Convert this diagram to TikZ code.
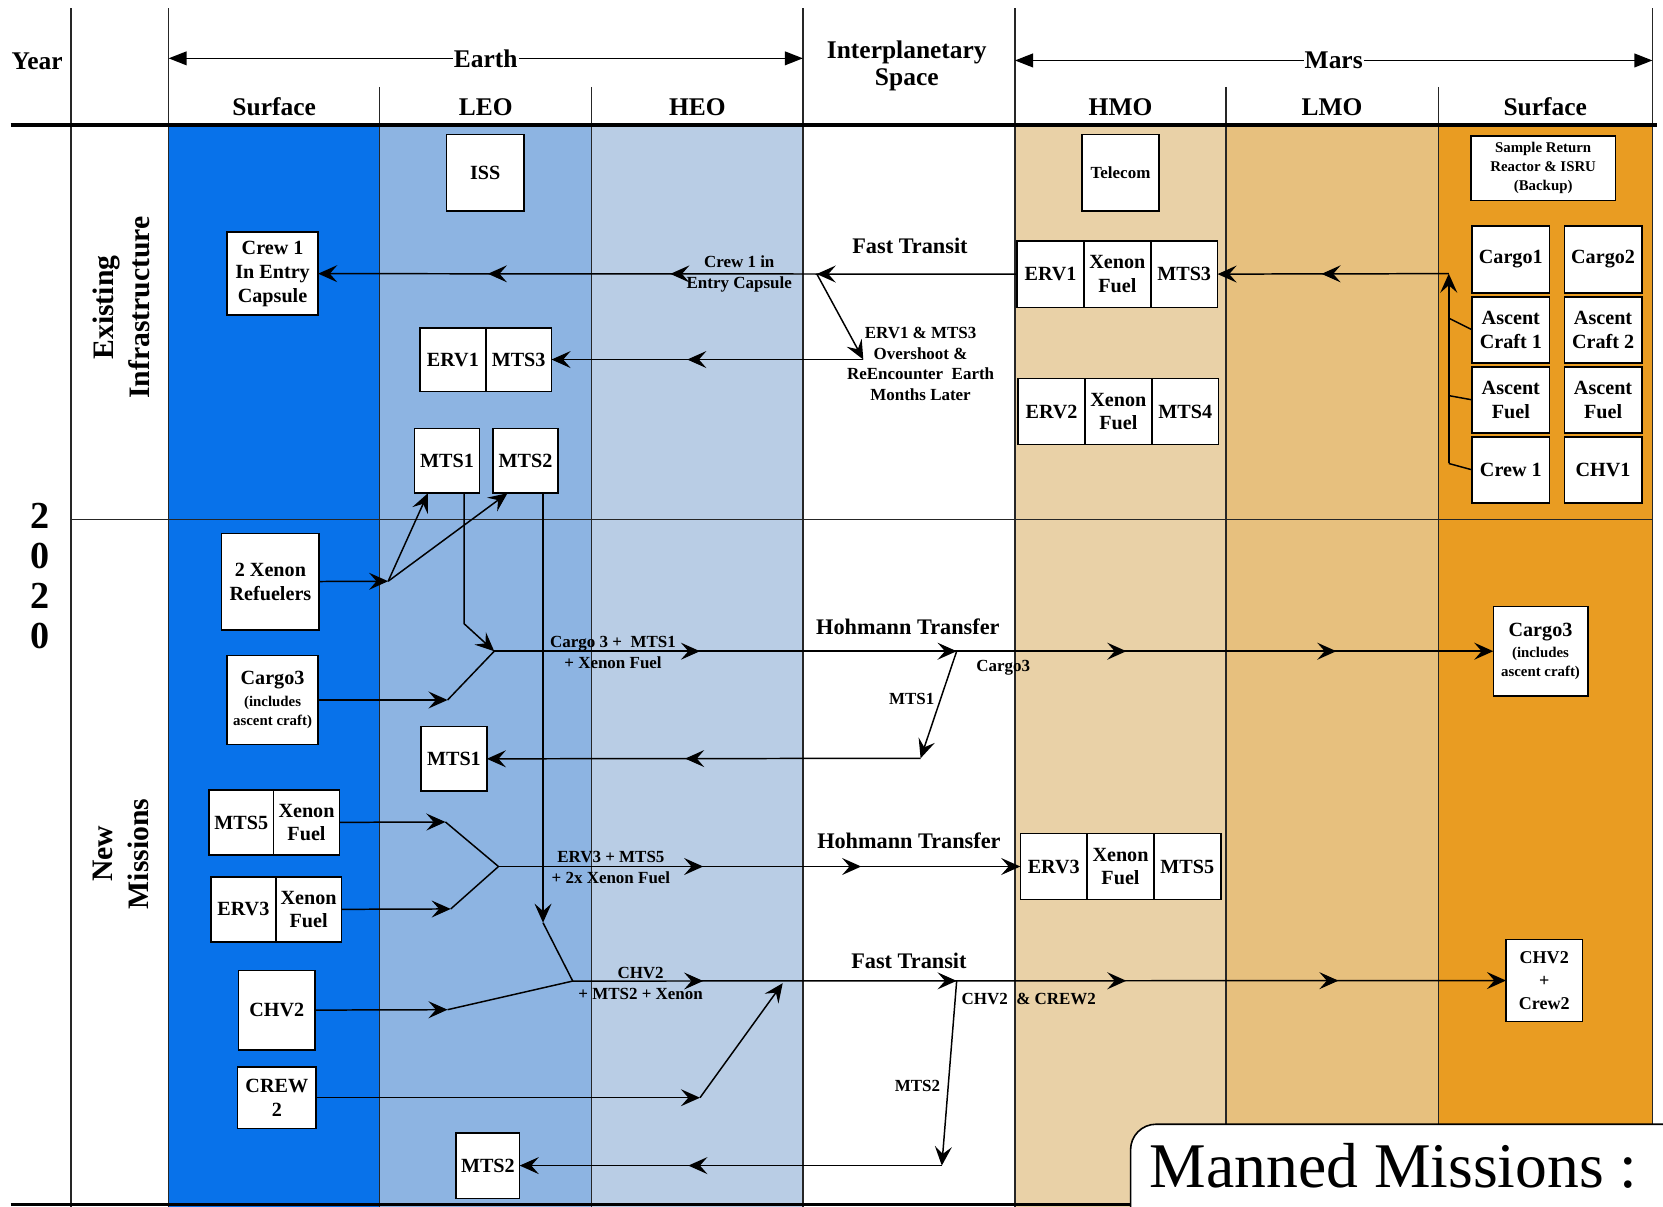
\documentclass[tikz,border=0pt]{standalone}
\usepackage{fontspec}
\setmainfont{Liberation Serif}
\usetikzlibrary{arrows.meta, positioning, decorations.markings}

\definecolor{earthsurf}{RGB}{8,114,234}
\definecolor{leo}{RGB}{141,180,226}
\definecolor{heo}{RGB}{185,205,229}
\definecolor{hmo}{RGB}{233,209,167}
\definecolor{lmo}{RGB}{231,192,126}
\definecolor{marssurf}{RGB}{233,156,34}

\newcommand\boxfont{\fontsize{19}{22.5}\selectfont\bfseries}
\newcommand\lblfont{\fontsize{16}{19.5}\selectfont\bfseries}
\newcommand\midfont{\fontsize{17}{22}\selectfont\bfseries}
\newcommand\notefont{\fontsize{14}{18}\selectfont\bfseries}
\newcommand\headfont{\fontsize{24}{25}\selectfont\bfseries}
\newcommand\transfont{\fontsize{21}{24}\selectfont\bfseries}
\newcommand\rowfont{\fontsize{28}{34}\selectfont\bfseries}
\newcommand\yearfont{\fontsize{36}{37.5}\selectfont\bfseries}

\tikzset{
  box/.style={draw, fill=white, line width=1.5pt, align=center, font=\boxfont, inner sep=0pt, outer sep=0pt},
  wh/.style 2 args={minimum width=#1, minimum height=#2},
  lbl/.style={align=center, font=\lblfont, inner sep=0pt},
  colline/.style={line width=1.2pt, black!85},
  wire/.style={line width=1.4pt},
  flow/.style={wire, ->},
  midtip/.style={postaction={decorate, decoration={markings, mark=at position #1 with {\arrow{>}}}}},
  headtip/.style={{Triangle[length=17pt, width=13pt]}-{Triangle[length=17pt, width=13pt]}, line width=1.3pt},
}

\begin{document}
\begin{tikzpicture}[x=1pt, y=-1pt, >={Stealth[length=18pt, width=16pt, inset=7pt]}]
\useasboundingbox (0,0) rectangle (1568,1138);

\fill[earthsurf] (159,118) rectangle (358,1138);
\fill[leo] (358,118) rectangle (558,1138);
\fill[heo] (558,118) rectangle (757,1138);
\fill[hmo] (957,118) rectangle (1156,1138);
\fill[lmo] (1156,118) rectangle (1356,1138);
\fill[marssurf] (1356,118) rectangle (1558,1138);

\draw[colline] (67,8) -- (67,1138);
\draw[colline] (159,8) -- (159,1138);
\draw[colline] (358,82) -- (358,1138);
\draw[colline] (558,82) -- (558,1138);
\draw[colline] (757,8) -- (757,1138);
\draw[colline] (957,8) -- (957,1138);
\draw[colline] (1156,82) -- (1156,1138);
\draw[colline] (1356,82) -- (1356,1138);
\draw[colline] (1558,8) -- (1558,1138);
\draw[colline] (67,490) -- (1558,490);
\draw[line width=3.5pt] (10,118) -- (1562,118);
\draw[line width=3pt] (10,1136) -- (1066,1136);

\node[font=\headfont] at (35,58) (year) {Year};
\draw[headtip] (159,55) -- node[fill=white, font=\headfont, inner sep=1pt] (earth) {Earth} (757,55);
\node[font=\headfont, align=center] at (855,62) (space) {Interplanetary\\Space};
\draw[headtip] (957,57) -- node[fill=white, font=\headfont, inner sep=1pt] (mars) {Mars} (1558,57);
\node[font=\headfont] at (258.5,101) (esurf) {Surface};
\node[font=\headfont] at (458,101) (leoh) {LEO};
\node[font=\headfont] at (657.5,101) (heoh) {HEO};
\node[font=\headfont] at (1056.5,101) (hmoh) {HMO};
\node[font=\headfont] at (1256,101) (lmoh) {LMO};
\node[font=\headfont] at (1457,101) (msurf) {Surface};

\node[font=\yearfont, align=center] at (38,543) (yr) {2\\0\\2\\0};
\node[font=\rowfont, align=center, rotate=90] at (114,290) (exist) {Existing\\Infrastructure};
\node[font=\rowfont, align=center, rotate=90] at (114,805) (newm) {New\\Missions};

\node[box, wh={73}{72}] at (457.5,163) (iss) {ISS};
\node[box, wh={86}{78}] at (257,258) (crewcap) {Crew 1\\In Entry\\Capsule};
\node[box, wh={62}{60}] at (427,339) (erv1l) {ERV1};
\node[box, wh={62}{60}, right=0pt of erv1l] (mts3l) {MTS3};
\node[box, wh={61}{61}] at (421.5,434.5) (mts1e) {MTS1};
\node[box, wh={61}{61}] at (495.5,434.5) (mts2e) {MTS2};

\node[box, wh={73}{72}, font=\lblfont] at (1056.5,163) (telecom) {Telecom};
\node[box, wh={63}{63}] at (990.5,258.5) (erv1m) {ERV1};
\node[box, wh={63}{63}, right=0pt of erv1m] (xen1m) {Xenon\\Fuel};
\node[box, wh={63}{63}, right=0pt of xen1m] (mts3m) {MTS3};
\node[box, wh={63}{62}] at (991.5,388) (erv2m) {ERV2};
\node[box, wh={63}{62}, right=0pt of erv2m] (xen2m) {Xenon\\Fuel};
\node[box, wh={63}{62}, right=0pt of xen2m] (mts4m) {MTS4};

\node[box, wh={136}{61}, font=\notefont] at (1455,158.5) (sample) {Sample Return\\Reactor \& ISRU\\(Backup)};
\node[box, wh={73}{63}] at (1424.5,244.5) (cargo1) {Cargo1};
\node[box, wh={73}{63}] at (1511.5,244.5) (cargo2) {Cargo2};
\node[box, wh={73}{62}] at (1424.5,311) (asc1) {Ascent\\Craft 1};
\node[box, wh={73}{62}] at (1511.5,311) (asc2) {Ascent\\Craft 2};
\node[box, wh={73}{62}] at (1424.5,377) (afuel1) {Ascent\\Fuel};
\node[box, wh={73}{62}] at (1511.5,377) (afuel2) {Ascent\\Fuel};
\node[box, wh={73}{62}] at (1424.5,443) (crewm) {Crew 1};
\node[box, wh={73}{62}] at (1511.5,443) (chv1) {CHV1};

\node[box, wh={92}{91}] at (255,548.5) (refuel) {2 Xenon\\Refuelers};
\node[box, wh={86}{84}, font=\notefont] at (257,660) (cargo3e) {{\boxfont Cargo3}\\[2pt](includes\\ascent craft)};
\node[box, wh={62}{61}] at (428,715.5) (mts1n) {MTS1};
\node[box, wh={61}{61}] at (227.5,775.5) (mts5e) {MTS5};
\node[box, wh={62}{61}, right=0pt of mts5e] (xen5e) {Xenon\\Fuel};
\node[box, wh={61}{61}] at (229.5,857.5) (erv3e) {ERV3};
\node[box, wh={62}{61}, right=0pt of erv3e] (xen3e) {Xenon\\Fuel};
\node[box, wh={72}{75}] at (261,952.5) (chv2e) {CHV2};
\node[box, wh={74}{58}] at (261,1035) (crew2e) {CREW\\2};
\node[box, wh={60}{62}] at (460,1099) (mts2n) {MTS2};

\node[box, wh={89}{84}, font=\notefont] at (1452.5,614) (cargo3m) {{\boxfont Cargo3}\\[2pt](includes\\ascent craft)};
\node[box, wh={63}{62}] at (993.5,817) (erv3m) {ERV3};
\node[box, wh={63}{62}, right=0pt of erv3m] (xen3m) {Xenon\\Fuel};
\node[box, wh={63}{62}, right=0pt of xen3m] (mts5m) {MTS5};
\node[box, wh={72}{77}, font=\midfont] at (1456,924.5) (chv2m) {CHV2\\+\\Crew2};

\node[font=\transfont] at (858,232) (fast1) {Fast Transit};
\node[font=\transfont] at (856,591) (hoh1) {Hohmann Transfer};
\node[font=\transfont] at (857,793) (hoh2) {Hohmann Transfer};
\node[font=\transfont] at (857,906) (fast2) {Fast Transit};
\node[lbl] at (697,258) (crewlbl) {Crew 1 in\\Entry Capsule};
\node[lbl] at (868,343) (overlbl) {ERV1 \& MTS3\\Overshoot \&\\ReEncounter\ \ Earth\\Months Later};
\node[lbl] at (578,615) (c3lbl) {Cargo 3 +\ \ MTS1\\+ Xenon Fuel};
\node[lbl] at (576,818) (e3lbl) {ERV3 + MTS5\\+ 2x Xenon Fuel};
\node[lbl] at (604,927) (ch2lbl) {CHV2\\+ MTS2 + Xenon};
\node[lbl] at (946,630) (c3mlbl) {Cargo3};
\node[lbl] at (970,942) (chcrew) {CHV2\ \ \& CREW2};

\coordinate (e1) at (770,258);
\coordinate (e2) at (814,339);
\draw[flow, midtip=189pt, midtip=327pt, midtip=499pt] (erv1m) -- (crewcap);
\draw[flow] (e1) -- (e2);
\draw[flow, midtip=166pt] (e2) -- (mts3l);

\coordinate (mj) at (1366,258);
\coordinate (ma) at (1366,300);
\coordinate (mf) at (1366,373);
\coordinate (mb) at (1366,437);
\draw[wire] (asc1.west) -- (ma);
\draw[wire] (afuel1.west) -- (mf);
\draw[wire] (crewm.west) -- (mb);
\draw[flow] (mb) -- (mj);
\draw[flow, midtip=120pt] (mj) -- (mts3m);

\coordinate (fork) at (366,548);
\coordinate (j1) at (466,614);
\coordinate (k1) at (437.5,588);
\coordinate (c3) at (422,660);
\draw[flow] (refuel) -- (fork);
\draw[flow] (fork) -- ([xshift=-18pt]mts1e.south);
\draw[flow] (fork) -- ([xshift=-17pt]mts2e.south);
\draw[flow] ([xshift=16pt]mts1e.south) -- (k1) -- (j1);
\draw[flow] (cargo3e) -- (c3);
\draw[wire] (c3) -- (j1);
\draw[flow, midtip=194pt, midtip=436pt, midtip=596pt, midtip=794pt] (j1) -- (cargo3m);
\coordinate (b1) at (902,614);
\coordinate (d1) at (868,715);
\draw[flow] (b1) -- node[lbl, left=5pt, pos=0.45] (mts1lbl) {MTS1} (d1);
\draw[flow, midtip=222pt] (d1) -- (mts1n);

\coordinate (m5) at (420,775);
\coordinate (e3) at (425,857);
\coordinate (j2) at (470,817);
\draw[flow] (xen5e) -- (m5);
\draw[wire] (m5) -- (j2);
\draw[flow] (xen3e) -- (e3);
\draw[wire] (e3) -- (j2);
\draw[flow, midtip=193pt, midtip=342pt] (j2) -- (erv3m);

\coordinate (k2) at (512,870);
\coordinate (j3) at (540,925);
\coordinate (ch) at (422,952);
\coordinate (cr) at (660,1035);
\coordinate (cu) at (738,927);
\draw[flow] ([xshift=16.5pt]mts2e.south) -- (k2);
\draw[wire] (k2) -- (j3);
\draw[flow] (chv2e) -- (ch);
\draw[wire] (ch) -- (j3);
\draw[flow, midtip=123pt, midtip=362pt, midtip=522pt, midtip=722pt] (j3) -- (chv2m);
\draw[flow] (crew2e) -- (cr);
\draw[flow] (cr) -- (cu);
\coordinate (b2) at (902,925);
\coordinate (d2) at (888,1099);
\draw[flow] (b2) -- node[lbl, left=7pt, pos=0.57] (mts2lbl) {MTS2} (d2);
\draw[flow, midtip=239pt] (d2) -- (mts2n);

\draw[fill=white, line width=1.5pt, rounded corners=24pt] (1066,1150) -- (1066,1060) -- (1600,1060) -- (1600,1150);
\node[font=\fontsize{60}{60}\selectfont] at (1314,1099) (manned) {Manned Missions :};
\end{tikzpicture}
\end{document}
